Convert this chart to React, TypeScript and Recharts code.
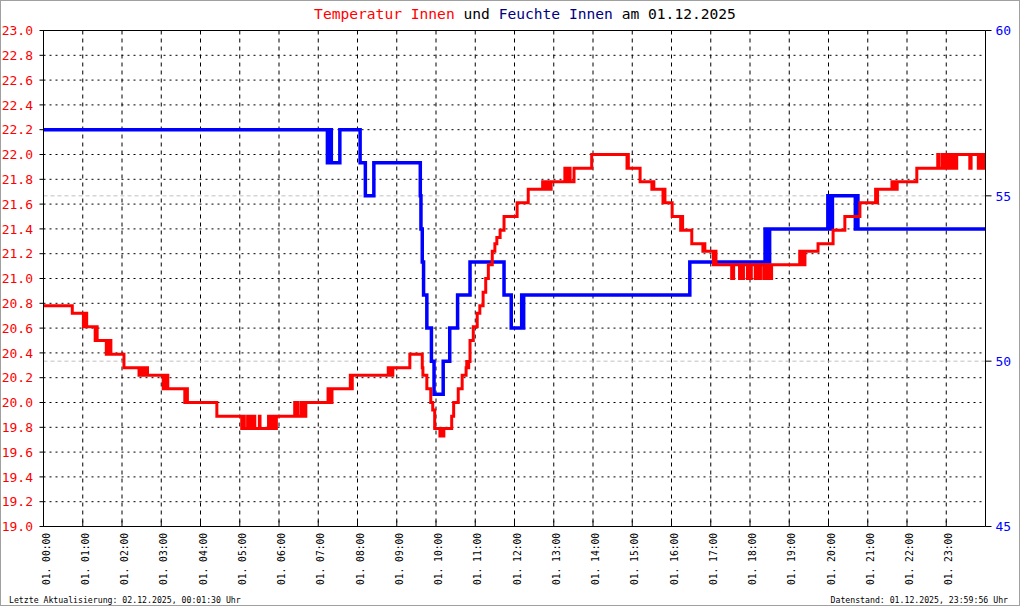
import React from "react";
import { LineChart, Line, XAxis, YAxis, CartesianGrid, ReferenceLine } from "recharts";

// ---- Tick values and labels ----
const hourTicks = [0, 60, 120, 180, 240, 300, 360, 420, 480, 540, 600, 660, 720, 780, 840, 900, 960, 1020, 1080, 1140, 1200, 1260, 1320, 1380];
const hourLabels = [
  "01. 00:00", "01. 01:00", "01. 02:00", "01. 03:00", "01. 04:00", "01. 05:00",
  "01. 06:00", "01. 07:00", "01. 08:00", "01. 09:00", "01. 10:00", "01. 11:00",
  "01. 12:00", "01. 13:00", "01. 14:00", "01. 15:00", "01. 16:00", "01. 17:00",
  "01. 18:00", "01. 19:00", "01. 20:00", "01. 21:00", "01. 22:00", "01. 23:00",
];
const tempTicks = [19.0, 19.2, 19.4, 19.6, 19.8, 20.0, 20.2, 20.4, 20.6, 20.8, 21.0, 21.2, 21.4, 21.6, 21.8, 22.0, 22.2, 22.4, 22.6, 22.8, 23.0];
const tempTickLabels = ["19.0", "19.2", "19.4", "19.6", "19.8", "20.0", "20.2", "20.4", "20.6", "20.8", "21.0", "21.2", "21.4", "21.6", "21.8", "22.0", "22.2", "22.4", "22.6", "22.8", "23.0"];
const humTicks = [45, 50, 55, 60];
const humTickLabels = ["45", "50", "55", "60"];

// ---- Texts ----
const titleTemp = "Temperatur Innen";
const titleUnd = " und ";
const titleHum = "Feuchte Innen";
const titleDate = " am 01.12.2025";
const footerLeft = "Letzte Aktualisierung: 02.12.2025, 00:01:30 Uhr";
const footerRight = "Datenstand: 01.12.2025, 23:59:56 Uhr";

// ---- Temperature (minute of day, °C), change points ----
const tempSeries: [number, number][] = [
  [0, 20.78], [44, 20.72],
  [61, 20.61], [62, 20.72], [64, 20.61], [65, 20.72], [66, 20.61],
  [79, 20.5], [80, 20.61], [82, 20.5],
  [96, 20.39], [97, 20.5], [99, 20.39], [100, 20.5], [103, 20.39],
  [123, 20.28],
  [146, 20.22], [147, 20.28], [150, 20.22], [151, 20.28], [155, 20.22], [156, 20.28], [159, 20.22],
  [183, 20.11], [184, 20.22], [187, 20.11], [188, 20.22], [190, 20.11],
  [216, 20.0], [217, 20.11], [220, 20.0],
  [265, 19.89],
  [303, 19.79], [306, 19.89], [307, 19.79], [312, 19.89], [313, 19.79], [317, 19.89], [318, 19.79],
  [322, 19.89], [323, 19.79], [330, 19.89], [331, 19.79],
  [344, 19.89], [345, 19.79], [348, 19.89], [349, 19.79], [352, 19.89], [353, 19.79], [356, 19.89],
  [384, 20.0], [385, 19.89], [388, 20.0], [389, 19.89], [394, 20.0], [395, 19.89], [398, 20.0], [399, 19.89], [401, 20.0],
  [435, 20.11], [436, 20.0], [438, 20.11], [439, 20.0], [441, 20.11],
  [469, 20.22], [470, 20.11], [472, 20.22],
  [527, 20.28], [528, 20.22], [531, 20.28], [532, 20.22], [534, 20.28],
  [560, 20.39], [579, 20.28], [580, 20.22], [586, 20.11], [592, 20.0], [595, 19.94], [598, 19.79],
  [606, 19.73], [608, 19.79], [610, 19.73], [612, 19.79],
  [624, 19.89], [627, 20.0], [634, 20.11], [640, 20.22],
  [646, 20.28], [647, 20.33], [649, 20.28], [650, 20.33],
  [652, 20.5], [657, 20.61], [663, 20.72], [667, 20.78], [672, 20.89], [676, 21.0], [680, 21.11],
  [686, 21.22], [690, 21.28], [693, 21.33], [698, 21.39], [704, 21.5], [724, 21.61], [741, 21.72],
  [763, 21.78], [764, 21.72], [767, 21.78], [768, 21.72], [772, 21.78], [773, 21.72], [776, 21.78],
  [797, 21.89], [798, 21.78], [800, 21.89], [801, 21.78], [804, 21.89], [805, 21.78], [811, 21.89],
  [838, 22.0], [892, 21.89], [893, 22.0], [894, 21.89],
  [912, 21.78], [930, 21.72], [931, 21.78], [933, 21.72],
  [947, 21.61], [948, 21.72], [950, 21.61],
  [961, 21.5], [974, 21.39], [975, 21.5], [977, 21.39],
  [991, 21.28],
  [1008, 21.22], [1009, 21.28], [1011, 21.22],
  [1024, 21.11], [1025, 21.22], [1028, 21.11],
  [1052, 21.0], [1055, 21.11],
  [1064, 21.0], [1066, 21.11], [1068, 21.0], [1070, 21.11],
  [1076, 21.0], [1078, 21.11], [1080, 21.0], [1082, 21.11],
  [1088, 21.0], [1090, 21.11], [1093, 21.0], [1096, 21.11],
  [1101, 21.0], [1103, 21.11], [1105, 21.0], [1108, 21.11], [1110, 21.0], [1113, 21.11],
  [1156, 21.22], [1157, 21.11], [1160, 21.22], [1161, 21.11], [1164, 21.22],
  [1184, 21.28], [1207, 21.39], [1225, 21.5], [1248, 21.61],
  [1272, 21.72], [1273, 21.61], [1275, 21.72],
  [1297, 21.78], [1298, 21.72], [1301, 21.78], [1302, 21.72], [1305, 21.78],
  [1335, 21.89],
  [1367, 22.0], [1369, 21.89], [1374, 22.0], [1376, 21.89], [1379, 22.0], [1381, 21.89],
  [1385, 22.0], [1387, 21.89], [1391, 22.0], [1393, 21.89], [1396, 22.0],
  [1416, 21.89], [1418, 22.0], [1429, 21.89], [1431, 22.0], [1434, 21.89], [1436, 22.0],
  [1438, 21.89], [1440, 21.89],
];

// ---- Humidity (minute of day, %), change points ----
const humSeries: [number, number][] = [
  [0, 57],
  [434, 56], [435, 57], [437, 56], [438, 57], [440, 56],
  [453, 57], [484, 56], [492, 55], [505, 56],
  [576, 55], [577, 54], [579, 53], [581, 52], [586, 51], [593, 50], [597, 49],
  [611, 50], [621, 51], [633, 52], [652, 53], [704, 52], [715, 51],
  [731, 52], [732, 51], [734, 52],
  [988, 53],
  [1103, 54], [1104, 53], [1107, 54], [1108, 53], [1110, 54],
  [1199, 55], [1200, 54], [1203, 55], [1204, 54], [1206, 55],
  [1241, 54], [1242, 55], [1245, 54],
  [1440, 54],
];

const tempData = tempSeries.map(([t, v]) => ({ t, v }));
const humData = humSeries.map(([t, v]) => ({ t, v }));

const MONO = "'DejaVu Sans Mono', 'Liberation Mono', monospace";

const XTick = (props: any) => {
  const { x, index } = props;
  const tx = x + 6;
  return (
    <g>
      <line x1={x} x2={x} y1={520.5} y2={526.5} stroke="#000" strokeWidth={1} />
      <text
        x={tx}
        y={533}
        transform={`rotate(-90 ${tx} 533)`}
        textAnchor="end"
        fontSize={9.6}
        fontFamily={MONO}
        fill="#000"
      >
        {hourLabels[index]}
      </text>
    </g>
  );
};

const LeftTick = (props: any) => {
  const { y, index } = props;
  return (
    <text x={33} y={y} dy={4.7} textAnchor="end" fontSize={13} fontFamily={MONO} fill="#ff0000">
      {tempTickLabels[index]}
    </text>
  );
};

const RightTick = (props: any) => {
  const { y, index } = props;
  return (
    <text x={995.5} y={y} dy={4.7} textAnchor="start" fontSize={13} fontFamily={MONO} fill="#0000ff">
      {humTickLabels[index]}
    </text>
  );
};

export default function App() {
  return (
    <div style={{ position: "absolute", left: 0, top: 0, width: 1020, height: 606, background: "#fff" }}>
      <LineChart width={1020} height={606} margin={{ top: 30.5, right: 0.5, bottom: 0.5, left: 0.5 }}>
        <XAxis
          dataKey="t"
          type="number"
          domain={[0, 1440]}
          ticks={hourTicks}
          interval={0}
          height={79}
          tick={<XTick />}
          tickLine={false}
          axisLine={{ stroke: "#000", strokeWidth: 1 }}
          allowDataOverflow
        />
        <YAxis
          yAxisId="t"
          orientation="left"
          domain={[19, 23]}
          ticks={tempTicks}
          interval={0}
          width={43}
          tick={<LeftTick />}
          tickSize={4}
          tickLine={{ stroke: "#000" }}
          axisLine={{ stroke: "#000", strokeWidth: 1 }}
          allowDataOverflow
        />
        <YAxis
          yAxisId="h"
          orientation="right"
          domain={[45, 60]}
          ticks={humTicks}
          interval={0}
          width={34}
          tick={<RightTick />}
          tickSize={6}
          tickLine={{ stroke: "#000" }}
          axisLine={{ stroke: "#000", strokeWidth: 1 }}
          allowDataOverflow
        />
        <CartesianGrid yAxisId="t" vertical={false} stroke="#000" strokeDasharray="2 4" />
        <CartesianGrid yAxisId="t" horizontal={false} stroke="#000" strokeDasharray="4 4" />
        <ReferenceLine yAxisId="h" y={50} stroke="#c0c0c0" strokeDasharray="4 3" />
        <ReferenceLine yAxisId="h" y={55} stroke="#c0c0c0" strokeDasharray="4 3" />
        <ReferenceLine yAxisId="t" y={23} stroke="#000" strokeWidth={1} />
        <Line
          yAxisId="h"
          data={humData}
          dataKey="v"
          type="stepAfter"
          stroke="#0000ff"
          strokeWidth={3.5}
          dot={false}
          activeDot={false}
          isAnimationActive={false}
        />
        <Line
          yAxisId="t"
          data={tempData}
          dataKey="v"
          type="stepAfter"
          stroke="#ff0000"
          strokeWidth={3}
          dot={false}
          activeDot={false}
          isAnimationActive={false}
        />
      </LineChart>
      <svg
        width={1020}
        height={606}
        style={{ position: "absolute", left: 0, top: 0, pointerEvents: "none" }}
      >
        <rect x={0.5} y={0.5} width={1019} height={605} fill="none" stroke="#a0a0a0" strokeWidth={1} />
        <text x={525} y={18.5} textAnchor="middle" fontSize={14.6} fontFamily={MONO} style={{ whiteSpace: "pre" }}>
          <tspan fill="#ff0000">{titleTemp}</tspan>
          <tspan fill="#000000">{titleUnd}</tspan>
          <tspan fill="#000080">{titleHum}</tspan>
          <tspan fill="#000000">{titleDate}</tspan>
        </text>
        <text x={9} y={602.5} fontSize={8.2} fontFamily={MONO} fill="#000">
          {footerLeft}
        </text>
        <text x={1008} y={602.5} textAnchor="end" fontSize={8.2} fontFamily={MONO} fill="#000">
          {footerRight}
        </text>
      </svg>
    </div>
  );
}
